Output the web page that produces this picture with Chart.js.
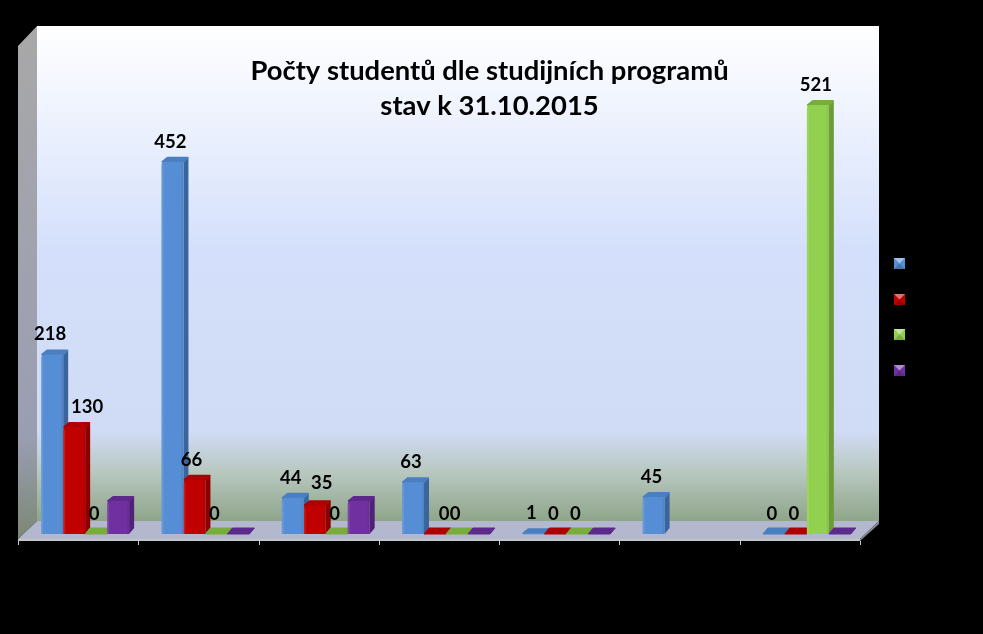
<!DOCTYPE html>
<html>
<head>
<meta charset="utf-8">
<title>Počty studentů</title>
<script src="https://cdn.jsdelivr.net/npm/chart.js@4"></script>
<style>
  html, body { margin: 0; padding: 0; background: #000; }
  canvas { display: block; }
</style>
</head>
<body>
<canvas id="myChart" width="983" height="634"></canvas>
<script>
// popisky kategorii a rad nejsou v obrazku citelne (cerna na cerne)
const categories = ['', '', '', '', '', '', ''];
const seriesBlue = [218, 452, 44, 63, 1, 45, 0];
const seriesRed = [130, 66, 35, 0, 0, null, 0];
const seriesGreen = [0, 0, 0, 0, 0, null, 521];
const seriesPurple = [40, 0, 40, 0, 0, null, 0];
const titleLines = ['Počty studentů dle studijních programů', 'stav k 31.10.2015'];

const frontColors = ['#558ed5', '#c00000', '#92d050', '#7030a0'];
const sideColors = ['#3a659c', '#8c0000', '#6c9c38', '#50207a'];
const topColors = ['#4a7fc0', '#ae0000', '#78ac3c', '#5d2a8c'];
const showLabels = [true, true, true, false];
const labelNudgeX = { '0,1': 15, '1,1': -1, '2,1': 9, '3,1': 11 };
const labelNudgeY = { '2,1': -2 };

const depthX = 5, depthY = 6;

function poly(ctx, pts, color, soft) {
  ctx.fillStyle = color;
  ctx.beginPath();
  pts.forEach((p, i) => i ? ctx.lineTo(p[0], p[1]) : ctx.moveTo(p[0], p[1]));
  ctx.closePath();
  ctx.fill();
  if (soft) {
    ctx.strokeStyle = color;
    ctx.lineWidth = soft;
    ctx.lineJoin = 'round';
    ctx.stroke();
  }
}

// zadni stena, bocni stena a podlaha
const roomPlugin = {
  id: 'room',
  beforeDatasetsDraw(chart) {
    const ctx = chart.ctx;
    const a = chart.chartArea;
    const left = a.left - 7, right = a.right - 7, floorFront = a.bottom + 5;
    const backL = left + 19, backR = right + 19, backB = floorFront - 18, backT = 26;

    const wall = ctx.createLinearGradient(0, backT, 0, backB);
    wall.addColorStop(0, '#ffffff');
    wall.addColorStop(0.45, '#d4e0fb');
    wall.addColorStop(0.82, '#d0dbf5');
    wall.addColorStop(0.9, '#b8c8c0');
    wall.addColorStop(1, '#8fa58a');
    ctx.fillStyle = wall;
    ctx.fillRect(backL, backT, backR - backL, backB - backT);

    const side = ctx.createLinearGradient(0, backT, 0, floorFront);
    side.addColorStop(0, '#a8a8a8');
    side.addColorStop(0.8, '#9a9eb2');
    side.addColorStop(1, '#7c8874');
    poly(ctx, [[left, backT + 20], [backL, backT], [backL, backB], [left, floorFront]], side);

    poly(ctx, [[left, floorFront], [backL, backB], [backR, backB], [right, floorFront]], '#b3b8cf');
    poly(ctx, [[left, floorFront], [right, floorFront], [right, floorFront + 2], [left, floorFront + 2]], '#c4c4c4');
    poly(ctx, [[right, floorFront], [backR, backB], [backR, backB + 3], [right, floorFront + 2]], '#8a8a96');

    // znacky na ose x
    ctx.fillStyle = '#c8c8c8';
    const step = (a.right - a.left) / categories.length;
    for (let i = 0; i <= categories.length; i++) {
      ctx.fillRect(Math.round(left + i * step), floorFront + 2, 1, 4);
    }

    // bocni a horni steny sloupcu, cela kresli knihovna
    chart.data.datasets.forEach((ds, d) => {
      chart.getDatasetMeta(d).data.forEach((bar, i) => {
        if (ds.data[i] === null) return;
        const x0 = bar.x - bar.width / 2, x1 = bar.x + bar.width / 2;
        const t = bar.y, b = bar.base;
        if (t < b) {
          poly(ctx, [[x1, t], [x1 + depthX, t - depthY + 1], [x1 + depthX, b - depthY], [x1, b]], sideColors[d]);
          poly(ctx, [[x0 + 1, t], [x1, t], [x1 + depthX - 1, t - depthY + 2], [x0 + depthX + 1, t - depthY + 2]], topColors[d], 2);
        } else {
          poly(ctx, [[x0, t], [x1, t], [x1 + depthX, t - depthY], [x0 + depthX, t - depthY]], topColors[d], 1);
        }
      });
    });
  },
  afterDatasetsDraw(chart) {
    const ctx = chart.ctx;
    // svetlejsi levy okraj sloupcu
    chart.data.datasets.forEach((ds, d) => {
      chart.getDatasetMeta(d).data.forEach((bar, i) => {
        if (!ds.data[i]) return;
        const x0 = bar.x - bar.width / 2;
        const h = bar.base - bar.y;
        if (h < 6) return;
        ctx.fillStyle = 'rgba(255,255,255,0.10)';
        ctx.fillRect(x0, bar.y + 3, 2, h - 3);
        ctx.fillStyle = 'rgba(0,0,0,0.06)';
        ctx.fillRect(x0 + bar.width - 2, bar.y + 1, 2, h - 1);
      });
    });

    // hodnoty nad sloupci
    ctx.fillStyle = '#000';
    ctx.font = 'bold 18.5px Lato';
    ctx.textAlign = 'center';
    ctx.textBaseline = 'middle';
    chart.data.datasets.forEach((ds, d) => {
      if (!showLabels[d]) return;
      chart.getDatasetMeta(d).data.forEach((bar, i) => {
        if (ds.data[i] === null) return;
        const key = i + ',' + d;
        const nx = labelNudgeX[key] || 0, ny = labelNudgeY[key] || 0;
        ctx.fillText(String(ds.data[i]), bar.x - 2 + nx, bar.y - 20 + ny);
      });
    });

    // nadpis
    ctx.font = 'bold 27.4px Lato';
    titleLines.forEach((line, i) => ctx.fillText(line, 489.5, 71 + i * 35));

    // legenda, nazvy rad nejsou citelne
    frontColors.forEach((color, i) => {
      const x = 894, y = 258 + Math.round(i * 35.6), s = 11;
      ctx.fillStyle = color;
      ctx.fillRect(x, y, s, s);
      poly(ctx, [[x, y], [x + s, y], [x + s / 2, y + s / 2]], 'rgba(255,255,255,0.45)');
      poly(ctx, [[x, y + s], [x + s, y + s], [x + s / 2, y + s / 2]], 'rgba(0,0,0,0.18)');
    });
  }
};

const seriesValues = [seriesBlue, seriesRed, seriesGreen, seriesPurple];

new Chart(document.getElementById('myChart'), {
  type: 'bar',
  data: {
    labels: categories,
    datasets: seriesValues.map((values, i) => ({
      label: '',
      data: values,
      backgroundColor: frontColors[i],
      borderRadius: { topLeft: 4, topRight: 1, bottomLeft: 0, bottomRight: 0 },
      barPercentage: 1,
      categoryPercentage: 0.731
    }))
  },
  options: {
    responsive: false,
    animation: false,
    devicePixelRatio: 1,
    layout: { padding: { left: 25, right: 116, top: 40, bottom: 100 } },
    scales: {
      x: { display: false },
      y: { display: false, min: 0, max: 600 }
    },
    plugins: {
      legend: { display: false },
      tooltip: { enabled: false }
    }
  },
  plugins: [roomPlugin]
});
</script>
</body>
</html>
